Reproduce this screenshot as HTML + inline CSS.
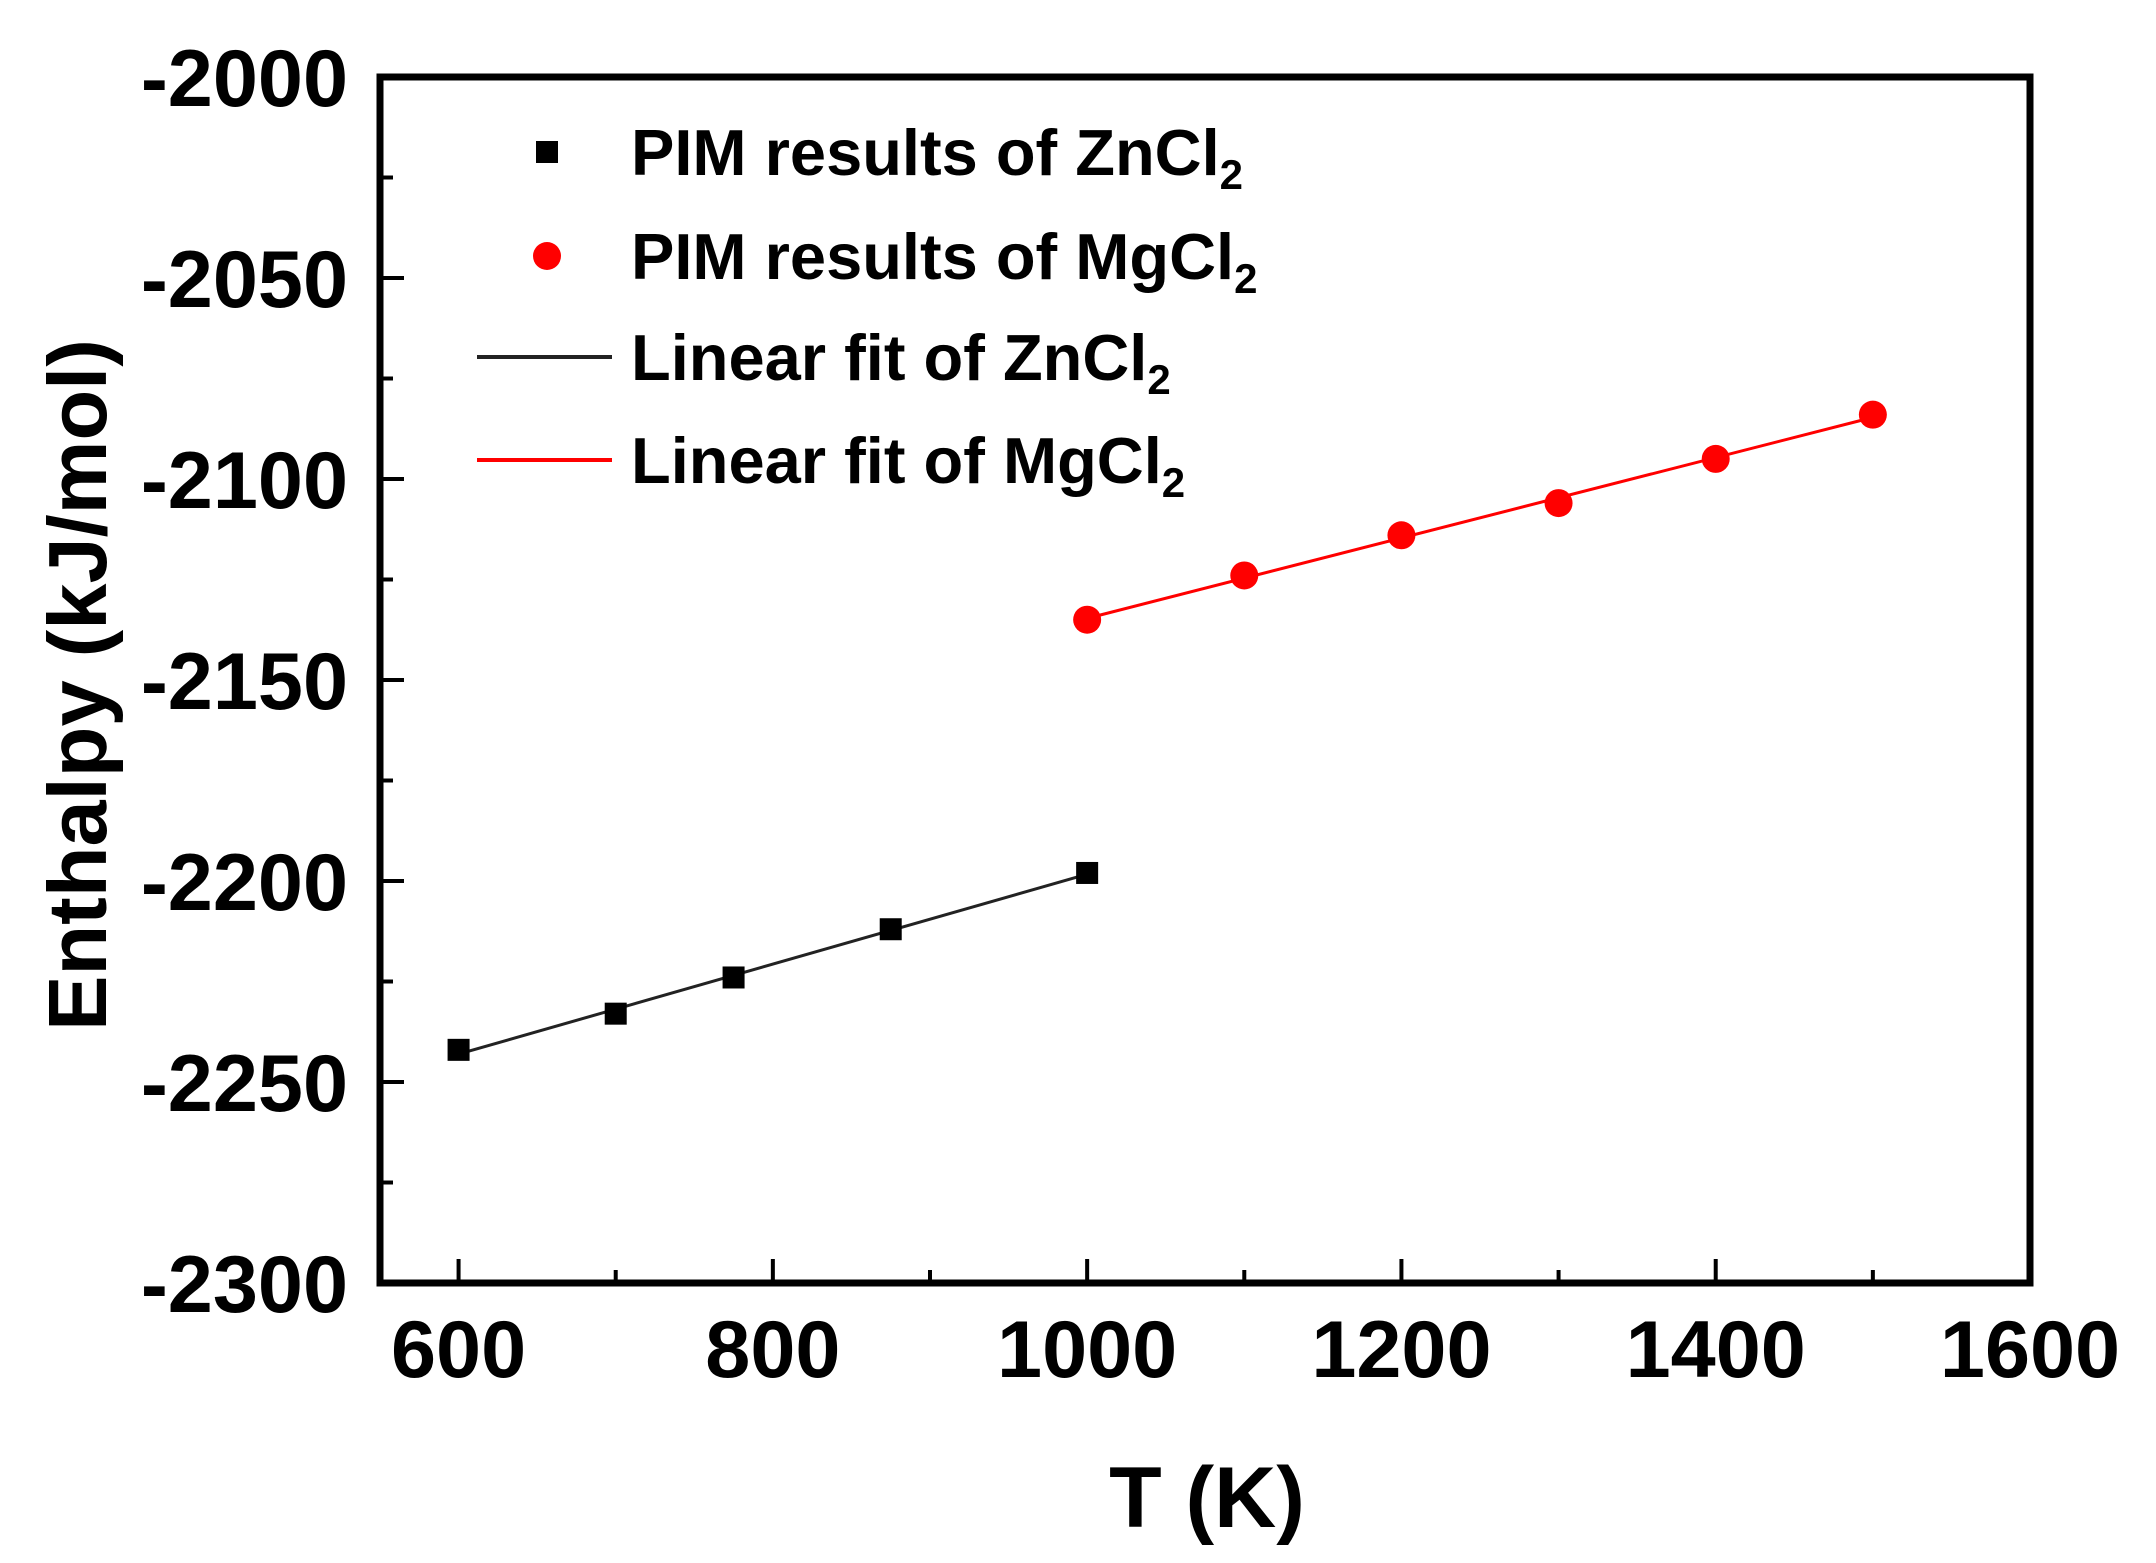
<!DOCTYPE html>
<html><head><meta charset="utf-8"><style>
html,body{margin:0;padding:0;background:#fff;}
svg{display:block;font-family:"Liberation Sans",Arial,sans-serif;font-weight:bold;}
</style></head><body>
<svg id="chart" width="2156" height="1563" viewBox="0 0 2156 1563" xmlns="http://www.w3.org/2000/svg">
<rect width="2156" height="1563" fill="#fff"/>
<g id="axes"></g>
<g id="plot"></g>
<g id="legend">
  <rect x="536" y="141" width="22" height="22" fill="#000"/>
  <text x="631" y="175" font-size="65">PIM results of ZnCl<tspan font-size="42" dy="14">2</tspan></text>
  <circle cx="547" cy="256" r="14" fill="#ff0000"/>
  <text x="631" y="279" font-size="65">PIM results of MgCl<tspan font-size="42" dy="14">2</tspan></text>
  <line x1="477" y1="357" x2="612" y2="357" stroke="#222" stroke-width="4"/>
  <text x="631" y="380" font-size="65">Linear fit of ZnCl<tspan font-size="42" dy="14">2</tspan></text>
  <line x1="477" y1="460" x2="612" y2="460" stroke="#ff0000" stroke-width="4"/>
  <text x="631" y="483" font-size="65">Linear fit of MgCl<tspan font-size="42" dy="14">2</tspan></text>
</g>
<text x="1207" y="1527" font-size="86" text-anchor="middle">T (K)</text>
<text transform="translate(106,685) rotate(-90)" font-size="83" text-anchor="middle">Enthalpy (kJ/mol)</text>
</svg>
<script>
const znT = [600, 700, 775, 875, 1000];
const znH = [-2242, -2233, -2224, -2212, -2198];
const mgT = [1000, 1100, 1200, 1300, 1400, 1500];
const mgH = [-2135, -2124, -2114, -2106, -2095, -2084];
const xTicks = [600, 800, 1000, 1200, 1400, 1600];
const yTicks = [-2000, -2050, -2100, -2150, -2200, -2250, -2300];

const NS = "http://www.w3.org/2000/svg";
const L = 380, R = 2030, T = 77, B = 1283;
const xMin = 550, xMax = 1600, yMin = -2300, yMax = -2000;
const sx = v => L + (v - xMin) / (xMax - xMin) * (R - L);
const sy = v => B - (v - yMin) / (yMax - yMin) * (B - T);
function mk(tag, attrs, parent) {
  const e = document.createElementNS(NS, tag);
  for (const k in attrs) e.setAttribute(k, attrs[k]);
  parent.appendChild(e);
  return e;
}
const axes = document.getElementById('axes');
const plot = document.getElementById('plot');

const frame = mk('rect', {x: L, y: T, width: R - L, height: B - T, fill: 'none', stroke: '#000', 'stroke-width': 7}, axes);



xTicks.forEach(v => {
  const x = sx(v);
  const t = mk('line', {x1: x, y1: B, x2: x, y2: B - 24, stroke: '#000', 'stroke-width': 4}, axes);
  
  
  const m = v + 100;
  if (m < xMax) {
    const mt = mk('line', {x1: sx(m), y1: B, x2: sx(m), y2: B - 13, stroke: '#000', 'stroke-width': 4}, axes);
    
    
  }
  const lb = mk('text', {x: x, y: 1377, 'font-size': 81, 'text-anchor': 'middle'}, axes);
  lb.textContent = v;
  
  
});

yTicks.forEach(v => {
  const y = sy(v);
  const t = mk('line', {x1: L, y1: y, x2: L + 24, y2: y, stroke: '#000', 'stroke-width': 4}, axes);
  
  
  const m = v - 25;
  if (m > yMin) {
    const mt = mk('line', {x1: L, y1: sy(m), x2: L + 13, y2: sy(m), stroke: '#000', 'stroke-width': 4}, axes);
    
    
  }
  const lb = mk('text', {x: 348, y: y + 29, 'font-size': 81, 'text-anchor': 'end'}, axes);
  lb.textContent = v;
  
  
});

function fit(xs, ys) {
  const n = xs.length;
  const mx = xs.reduce((a, b) => a + b) / n, my = ys.reduce((a, b) => a + b) / n;
  let num = 0, den = 0;
  xs.forEach((x, i) => { num += (x - mx) * (ys[i] - my); den += (x - mx) ** 2; });
  const k = num / den;
  return x => my + k * (x - mx);
}
const fz = fit(znT, znH), fm = fit(mgT, mgH);
const lz = mk('line', {x1: sx(znT[0]), y1: sy(fz(znT[0])), x2: sx(znT[znT.length - 1]), y2: sy(fz(znT[znT.length - 1])), stroke: '#222', 'stroke-width': 3}, plot);


const lm = mk('line', {x1: sx(mgT[0]), y1: sy(fm(mgT[0])), x2: sx(mgT[mgT.length - 1]), y2: sy(fm(mgT[mgT.length - 1])), stroke: '#ff0000', 'stroke-width': 3}, plot);



znT.forEach((t, i) => {
  const p = mk('rect', {x: sx(t) - 11, y: sy(znH[i]) - 11, width: 22, height: 22, fill: '#000'}, plot);
  
  
});
mgT.forEach((t, i) => {
  const p = mk('circle', {cx: sx(t), cy: sy(mgH[i]), r: 14, fill: '#ff0000'}, plot);
  
  
});
</script>
</body></html>
